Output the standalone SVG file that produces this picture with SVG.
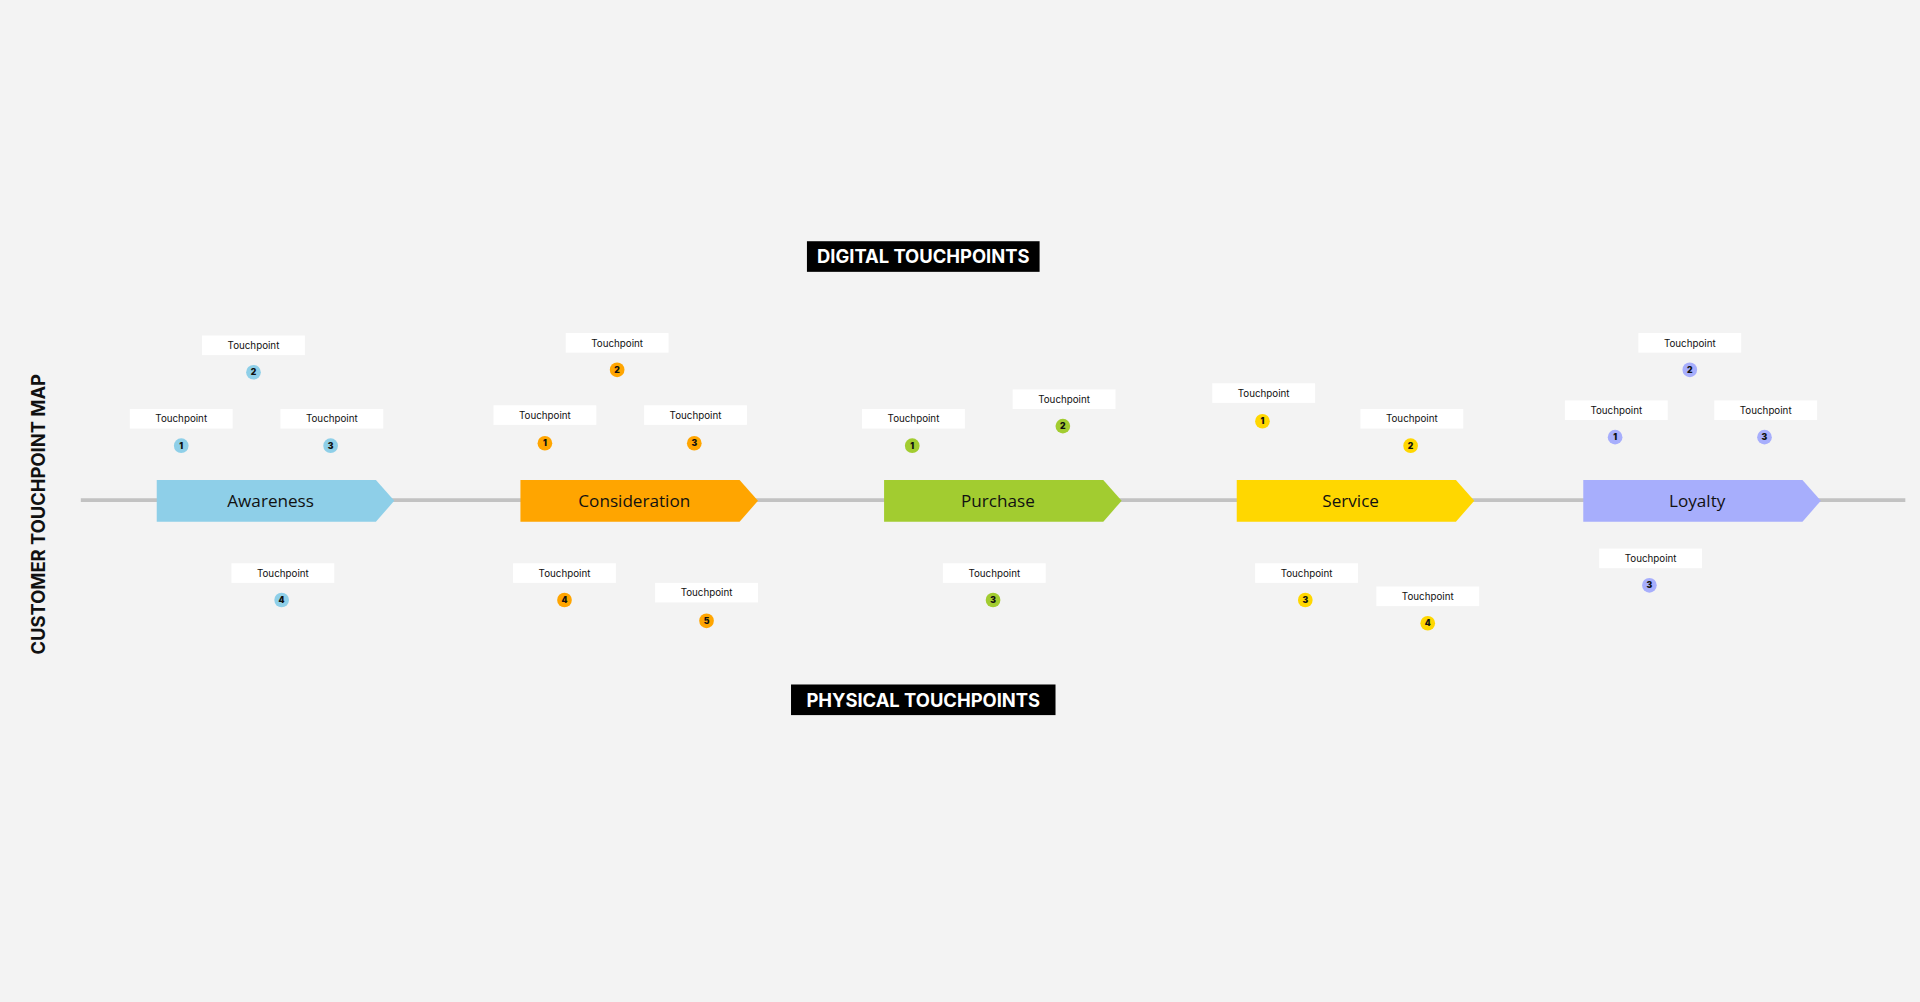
<svg xmlns="http://www.w3.org/2000/svg" width="1920" height="1002" viewBox="0 0 1920 1002">
<style>
.lb{fill:#fff}
.lt{font-family:Inter,"Liberation Sans",sans-serif;font-size:8px;fill:#111;text-anchor:middle}
.nt{font-family:Inter,"Liberation Sans",sans-serif;font-size:7px;font-weight:900;fill:#111;text-anchor:middle}
.st{font-family:"Open Sans","Liberation Sans",sans-serif;font-size:14px;fill:#111;text-anchor:middle}
.hd{font-family:Inter,"Liberation Sans",sans-serif;font-size:15px;font-weight:700;fill:#fff;text-anchor:middle}
.a{fill:#8ecfe8}.c{fill:#ffa500}.p{fill:#a2cc30}.s{fill:#ffd700}.l{fill:#a7aefc}
</style>
<rect width="1920" height="1002" fill="#f3f3f3"/>
<g transform="scale(1.22449)">
<g id="connectors"><line x1="66" y1="408.5" x2="1556" y2="408.5" stroke="#c2c2c2" stroke-width="3"/></g>
<g id="title"><text x="37" y="420" transform="rotate(-90 37 420)" font-family="Inter,'Liberation Sans',sans-serif" font-size="15" font-weight="700" fill="#111" text-anchor="middle">CUSTOMER TOUCHPOINT MAP</text></g>
<g id="digital"><rect x="659" y="197" width="190" height="25" fill="#000"/><text class="hd" x="754" y="215">DIGITAL TOUCHPOINTS</text></g>
<g id="physical"><rect x="646" y="559" width="216" height="25" fill="#000"/><text class="hd" x="754" y="577">PHYSICAL TOUCHPOINTS</text></g>
<g id="awareness"><polygon class="a" points="128,392 307,392 322,409 307,426 128,426"/><text class="st" x="221" y="414">Awareness</text></g>
<g id="consideration"><polygon class="c" points="425,392 604,392 619,409 604,426 425,426"/><text class="st" x="518" y="414">Consideration</text></g>
<g id="purchase"><polygon class="p" points="722,392 901,392 916,409 901,426 722,426"/><text class="st" x="815" y="414">Purchase</text></g>
<g id="service"><polygon class="s" points="1010,392 1189,392 1204,409 1189,426 1010,426"/><text class="st" x="1103" y="414">Service</text></g>
<g id="loyalty"><polygon class="l" points="1293,392 1472,392 1487,409 1472,426 1293,426"/><text class="st" x="1386" y="414">Loyalty</text></g>
<!-- touchpoints -->
<g id="a1"><rect class="lb" x="106" y="334" width="84" height="16"/><text class="lt" x="148" y="345">Touchpoint</text><circle class="a" cx="148" cy="364" r="6"/><text class="nt" x="148" y="366.5">1</text></g>
<g id="a2"><rect class="lb" x="165" y="274" width="84" height="16"/><text class="lt" x="207" y="285">Touchpoint</text><circle class="a" cx="207" cy="304" r="6"/><text class="nt" x="207" y="306.5">2</text></g>
<g id="a3"><rect class="lb" x="229" y="334" width="84" height="16"/><text class="lt" x="271" y="345">Touchpoint</text><circle class="a" cx="270" cy="364" r="6"/><text class="nt" x="270" y="366.5">3</text></g>
<g id="a4"><rect class="lb" x="189" y="460" width="84" height="16"/><text class="lt" x="231" y="471">Touchpoint</text><circle class="a" cx="230" cy="490" r="6"/><text class="nt" x="230" y="492.5">4</text></g>
<g id="c1"><rect class="lb" x="403" y="331" width="84" height="16"/><text class="lt" x="445" y="342">Touchpoint</text><circle class="c" cx="445" cy="362" r="6"/><text class="nt" x="445" y="364.5">1</text></g>
<g id="c2"><rect class="lb" x="462" y="272" width="84" height="16"/><text class="lt" x="504" y="283">Touchpoint</text><circle class="c" cx="504" cy="302" r="6"/><text class="nt" x="504" y="304.5">2</text></g>
<g id="c3"><rect class="lb" x="526" y="331" width="84" height="16"/><text class="lt" x="568" y="342">Touchpoint</text><circle class="c" cx="567" cy="362" r="6"/><text class="nt" x="567" y="364.5">3</text></g>
<g id="c4"><rect class="lb" x="419" y="460" width="84" height="16"/><text class="lt" x="461" y="471">Touchpoint</text><circle class="c" cx="461" cy="490" r="6"/><text class="nt" x="461" y="492.5">4</text></g>
<g id="c5"><rect class="lb" x="535" y="476" width="84" height="16"/><text class="lt" x="577" y="487">Touchpoint</text><circle class="c" cx="577" cy="507" r="6"/><text class="nt" x="577" y="509.5">5</text></g>
<g id="p1"><rect class="lb" x="704" y="334" width="84" height="16"/><text class="lt" x="746" y="345">Touchpoint</text><circle class="p" cx="745" cy="364" r="6"/><text class="nt" x="745" y="366.5">1</text></g>
<g id="p2"><rect class="lb" x="827" y="318" width="84" height="16"/><text class="lt" x="869" y="329">Touchpoint</text><circle class="p" cx="868" cy="348" r="6"/><text class="nt" x="868" y="350.5">2</text></g>
<g id="p3"><rect class="lb" x="770" y="460" width="84" height="16"/><text class="lt" x="812" y="471">Touchpoint</text><circle class="p" cx="811" cy="490" r="6"/><text class="nt" x="811" y="492.5">3</text></g>
<g id="s1"><rect class="lb" x="990" y="313" width="84" height="16"/><text class="lt" x="1032" y="324">Touchpoint</text><circle class="s" cx="1031" cy="344" r="6"/><text class="nt" x="1031" y="346.5">1</text></g>
<g id="s2"><rect class="lb" x="1111" y="334" width="84" height="16"/><text class="lt" x="1153" y="345">Touchpoint</text><circle class="s" cx="1152" cy="364" r="6"/><text class="nt" x="1152" y="366.5">2</text></g>
<g id="s3"><rect class="lb" x="1025" y="460" width="84" height="16"/><text class="lt" x="1067" y="471">Touchpoint</text><circle class="s" cx="1066" cy="490" r="6"/><text class="nt" x="1066" y="492.5">3</text></g>
<g id="s4"><rect class="lb" x="1124" y="479" width="84" height="16"/><text class="lt" x="1166" y="490">Touchpoint</text><circle class="s" cx="1166" cy="509" r="6"/><text class="nt" x="1166" y="511.5">4</text></g>
<g id="l1"><rect class="lb" x="1278" y="327" width="84" height="16"/><text class="lt" x="1320" y="338">Touchpoint</text><circle class="l" cx="1319" cy="357" r="6"/><text class="nt" x="1319" y="359.5">1</text></g>
<g id="l2"><rect class="lb" x="1338" y="272" width="84" height="16"/><text class="lt" x="1380" y="283">Touchpoint</text><circle class="l" cx="1380" cy="302" r="6"/><text class="nt" x="1380" y="304.5">2</text></g>
<g id="l3"><rect class="lb" x="1400" y="327" width="84" height="16"/><text class="lt" x="1442" y="338">Touchpoint</text><circle class="l" cx="1441" cy="357" r="6"/><text class="nt" x="1441" y="359.5">3</text></g>
<g id="l4"><rect class="lb" x="1306" y="448" width="84" height="16"/><text class="lt" x="1348" y="459">Touchpoint</text><circle class="l" cx="1347" cy="478" r="6"/><text class="nt" x="1347" y="480.5">3</text></g>
</g>
</svg>
